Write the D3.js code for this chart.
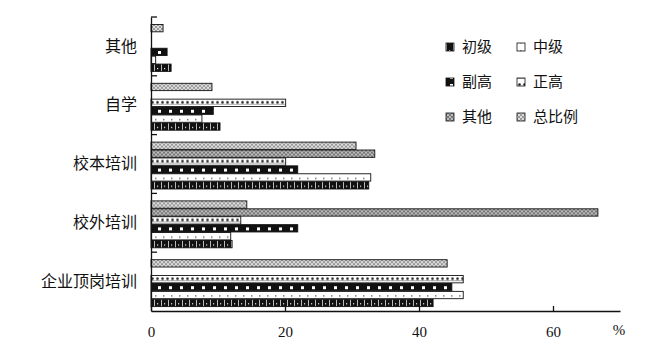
<!DOCTYPE html>
<html lang="zh">
    <head>
        <meta charset="utf-8">
        <title>培训方式</title>
        <script type="text/javascript" src="https://cdn.jsdelivr.net/npm/d3@7"></script>
        <style>
            body { margin: 0; background: #fff; }
            .cat text { font-family: "Noto Sans CJK SC", sans-serif; font-size: 16px; fill: #111; }
            .xax text { font-family: "Liberation Serif", serif; font-size: 15px; fill: #111; }
        </style>
    </head>
    <body>
        <script type="text/javascript">
            //categories top to bottom
            var categories = ["其他", "自学", "校本培训", "校外培训", "企业顶岗培训"];
            //series in legend order (first one sits at the bottom of each group)
            var seriesNames = ["初级", "中级", "副高", "正高", "其他", "总比例"];
            var chuji   = [3.0, 10.3, 32.5, 12.1, 42.1];
            var zhongji = [0.7, 7.6, 32.8, 11.9, 46.6];
            var fugao   = [2.4, 9.3, 21.9, 21.9, 44.9];
            var zhenggao = [0, 20.1, 20.1, 13.4, 46.6];
            var qita    = [0, 0, 33.4, 66.7, 0];
            var zong    = [1.8, 9.1, 30.6, 14.3, 44.2];
            var xTicks = [0, 20, 40, 60];

            var w = 665, h = 364;
            var values = [chuji, zhongji, fugao, zhenggao, qita, zong];

            var svg = d3.select("body").append("svg").attr("width", w).attr("height", h);

            // patterns - one per series
            var defs = svg.append("defs");
            function pat(id, pw, ph, bg) {
                var p = defs.append("pattern").attr("id", id).attr("patternUnits", "userSpaceOnUse")
                    .attr("width", pw).attr("height", ph);
                p.append("rect").attr("width", pw).attr("height", ph).attr("fill", bg);
                return p;
            }
            var p0 = pat("p0", 7, 8, "#111");
            p0.append("rect").attr("x", 0).attr("y", 0).attr("width", 1).attr("height", 8).attr("fill", "#bbb");
            p0.append("rect").attr("x", 3).attr("y", 3).attr("width", 1.2).attr("height", 1.2).attr("fill", "#eee");
            var p1 = pat("p1", 8, 8, "#fff");
            p1.append("rect").attr("x", 3).attr("y", 3).attr("width", 1.5).attr("height", 1.5).attr("fill", "#777");
            var p2 = pat("p2", 11, 8, "#111");
            p2.append("rect").attr("x", 4).attr("y", 2).attr("width", 3).attr("height", 3).attr("fill", "#fff");
            var p3 = pat("p3", 5, 8, "#fff");
            p3.append("circle").attr("cx", 2.5).attr("cy", 2.5).attr("r", 1.3).attr("fill", "#222");
            p3.append("rect").attr("x", 0).attr("y", 4).attr("width", 5).attr("height", 1).attr("fill", "#aaa");
            var p4 = pat("p4", 4, 4, "#777");
            p4.append("path").attr("d", "M0,0L4,4M4,0L0,4").attr("stroke", "#bbb").attr("stroke-width", 1);
            var p5 = pat("p5", 4, 4, "#999");
            p5.append("path").attr("d", "M0,0L4,4M4,0L0,4").attr("stroke", "#ddd").attr("stroke-width", 1);

            var x = d3.scaleLinear().domain([0, 70]).range([151, 620]);
            var y = d3.scaleBand().domain(categories).range([17, 311]);
            //series order inside a band: last series on top
            var inner = d3.scaleBand().domain(d3.range(6).reverse()).range([7.5, 55]);

            var groups = svg.selectAll("g.grp")
                .data(categories)
                .enter()
                .append("g")
                .attr("class", "grp")
                .attr("transform", function(d) { return "translate(0," + y(d) + ")"; });

            groups.selectAll("rect")
                .data(function(d, i) {
                    return values.map(function(s, k) { return {k: k, v: s[i]}; }).filter(function(e) { return e.v > 0; });
                })
                .enter()
                .append("rect")
                .attr("x", x(0))
                .attr("y", function(d) { return inner(d.k); })
                .attr("width", function(d) { return x(d.v) - x(0); })
                .attr("height", inner.bandwidth() - 0.6)
                .attr("fill", function(d) { return "url(#p" + d.k + ")"; })
                .attr("stroke", "#111")
                .attr("stroke-width", 0.9);

            // x axis, ticks pointing up
            var xAxis = svg.append("g").attr("class", "xax")
                .attr("transform", "translate(0,311)")
                .call(d3.axisBottom(x).tickValues(xTicks).tickSizeInner(-5).tickSizeOuter(0).tickPadding(15));
            xAxis.select(".domain").attr("stroke", "#111").attr("stroke-width", 1.3);
            xAxis.selectAll(".tick line").attr("stroke", "#111").attr("stroke-width", 1.3);
            xAxis.append("text").attr("x", 619).attr("y", 13).attr("dy", "0.71em")
                .attr("text-anchor", "middle").attr("fill", "#111").text("%");

            // y axis with category labels
            var yAxis = svg.append("g").attr("class", "cat")
                .attr("transform", "translate(151,0)")
                .call(d3.axisLeft(y).tickSize(0).tickPadding(14));
            yAxis.select(".domain").attr("stroke", "#111").attr("stroke-width", 1.3);
            // boundary ticks pointing right
            var bounds = categories.map(function(c) { return y(c); });
            svg.selectAll("line.bt")
                .data(bounds)
                .enter()
                .append("line")
                .attr("class", "bt")
                .attr("x1", 151).attr("x2", 157)
                .attr("y1", function(d) { return d; })
                .attr("y2", function(d) { return d; })
                .attr("stroke", "#111")
                .attr("stroke-width", 1.3);

            // legend
            var legend = svg.selectAll("g.leg")
                .data(seriesNames)
                .enter()
                .append("g")
                .attr("class", "leg")
                .attr("transform", function(d, i) {
                    return "translate(" + (446 + (i % 2) * 71) + "," + (47 + Math.floor(i / 2) * 35) + ")";
                });
            legend.append("rect")
                .attr("x", 0).attr("y", -4).attr("width", 8).attr("height", 8)
                .attr("fill", function(d, i) { return "url(#p" + i + ")"; })
                .attr("stroke", "#111").attr("stroke-width", 0.8);
            legend.append("text")
                .attr("x", 16).attr("y", 0).attr("dy", "0.35em")
                .attr("font-family", "Noto Sans CJK SC, sans-serif")
                .attr("font-size", "15px")
                .attr("fill", "#111")
                .text(function(d) { return d; });
        </script>
    </body>
</html>
